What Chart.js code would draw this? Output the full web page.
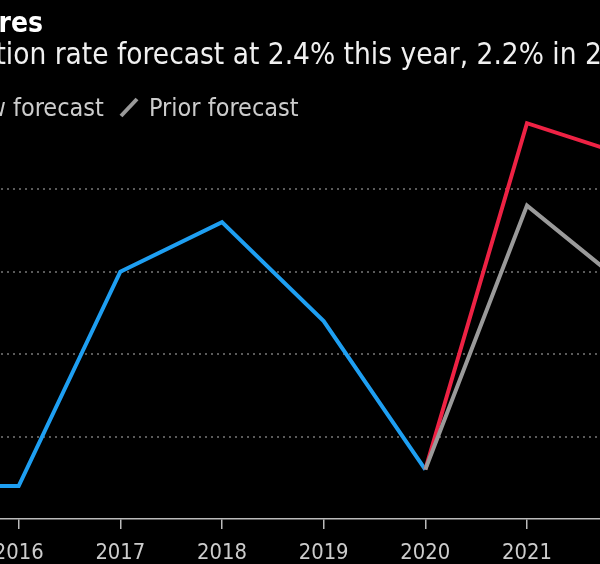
<!DOCTYPE html>
<html>
<head>
<meta charset="utf-8">
<script src="https://cdn.jsdelivr.net/npm/chart.js@4.4.1/dist/chart.umd.min.js"></script>
<style>
  html, body { margin: 0; background: #000; overflow: hidden; width: 600px; height: 564px; }
  #wrap { position: relative; width: 600px; height: 564px; overflow: hidden; }
  #chart { position: absolute; left: -150px; top: 0; }
</style>
</head>
<body>
<div id="wrap"><canvas id="chart" width="900" height="600"></canvas></div>
<script>
// ==========================
// Dados
// ==========================
const years = ['2015', '2016', '2017', '2018', '2019', '2020', '2021', '2022', '2023'];
const actual = [0.2, 0.2, 1.5, 1.8, 1.2, 0.3, null, null, null];
const newForecast = [null, null, null, null, null, 0.3, 2.4, 2.2, 1.4];
const priorForecast = [null, null, null, null, null, 0.3, 1.9, 1.4, null];

const title = 'Inflation Pressures';
const subtitle = 'Euro-area inflation rate forecast at 2.4% this year, 2.2% in 2022';
const legendNew = 'New forecast';
const legendPrior = 'Prior forecast';

const FONT = '"DejaVu Sans Condensed", "DejaVu Sans", sans-serif';
const SHIFT = 150; // canvas sits 150px left of the page

// títulos e legenda desenhados à mão
const headerPlugin = {
    id: 'header',
    afterDraw(chart) {
        const ctx = chart.ctx;
        ctx.save();
        ctx.textBaseline = 'alphabetic';

        ctx.fillStyle = '#ffffff';
        ctx.font = 'bold 28px ' + FONT;
        ctx.textAlign = 'right';
        ctx.fillText(title, SHIFT + 43, 32);

        ctx.textAlign = 'left';
        ctx.font = '29.5px ' + FONT;
        ctx.fillStyle = '#f0f0f0';
        const subX = SHIFT + 117 - ctx.measureText('Euro-area inflation rate ').width;
        ctx.fillText(subtitle, subX, 64);

        ctx.font = '25px ' + FONT;
        ctx.fillStyle = '#cccccc';
        const newX = SHIFT + 13 - ctx.measureText('New ').width;
        const priorX = SHIFT + 149;
        ctx.fillText(legendNew, newX, 116);
        ctx.fillText(legendPrior, priorX, 116);

        ctx.lineWidth = 4;
        ctx.lineCap = 'butt';
        [[newX, '#ee2244'], [priorX, '#9a9a9a']].forEach(([x, c]) => {
            ctx.strokeStyle = c;
            ctx.beginPath();
            ctx.moveTo(x - 28, 116);
            ctx.lineTo(x - 12, 99);
            ctx.stroke();
        });
        ctx.restore();
    }
};

new Chart(document.getElementById('chart'), {
    type: 'line',
    data: {
        labels: years,
        datasets: [
            {
                label: legendPrior,
                data: priorForecast,
                borderColor: '#9a9a9a',
                borderWidth: 4,
                order: 0
            },
            {
                label: legendNew,
                data: newForecast,
                borderColor: '#ee2244',
                borderWidth: 4,
                order: 1
            },
            {
                label: 'Actual',
                data: actual,
                borderColor: '#1e9ff2',
                borderWidth: 4,
                order: 2
            }
        ]
    },
    options: {
        responsive: false,
        animation: false,
        devicePixelRatio: 1,
        layout: { padding: { left: 67, right: 19.7, top: 106.7, bottom: 36 } },
        elements: {
            point: { radius: 0 },
            line: { tension: 0, borderJoinStyle: 'miter', borderCapStyle: 'butt' }
        },
        plugins: {
            legend: { display: false },
            tooltip: { enabled: false }
        },
        scales: {
            x: {
                offset: false,
                afterFit: s => { s.height = 45; s.paddingLeft = 0; s.paddingRight = 0; },
                grid: {
                    drawOnChartArea: false,
                    color: '#bbbbbb',
                    tickLength: 10,
                    lineWidth: 1.5
                },
                border: { color: '#bbbbbb', width: 1.5 },
                ticks: {
                    color: '#cccccc',
                    font: { family: FONT, size: 21.8 },
                    padding: 11,
                    maxRotation: 0,
                    autoSkip: false
                }
            },
            y: {
                position: 'right',
                min: 0,
                max: 2.5,
                afterFit: s => { s.width = 0; },
                ticks: { display: false, stepSize: 0.5 },
                grid: {
                    drawTicks: false,
                    lineWidth: 2,
                    color: c => (c.tick.value > 0 && c.tick.value < 2.5) ? '#5a5a5a' : 'transparent'
                },
                border: { display: false, dash: [2, 4] }
            }
        }
    },
    plugins: [headerPlugin]
});
</script>
</body>
</html>
